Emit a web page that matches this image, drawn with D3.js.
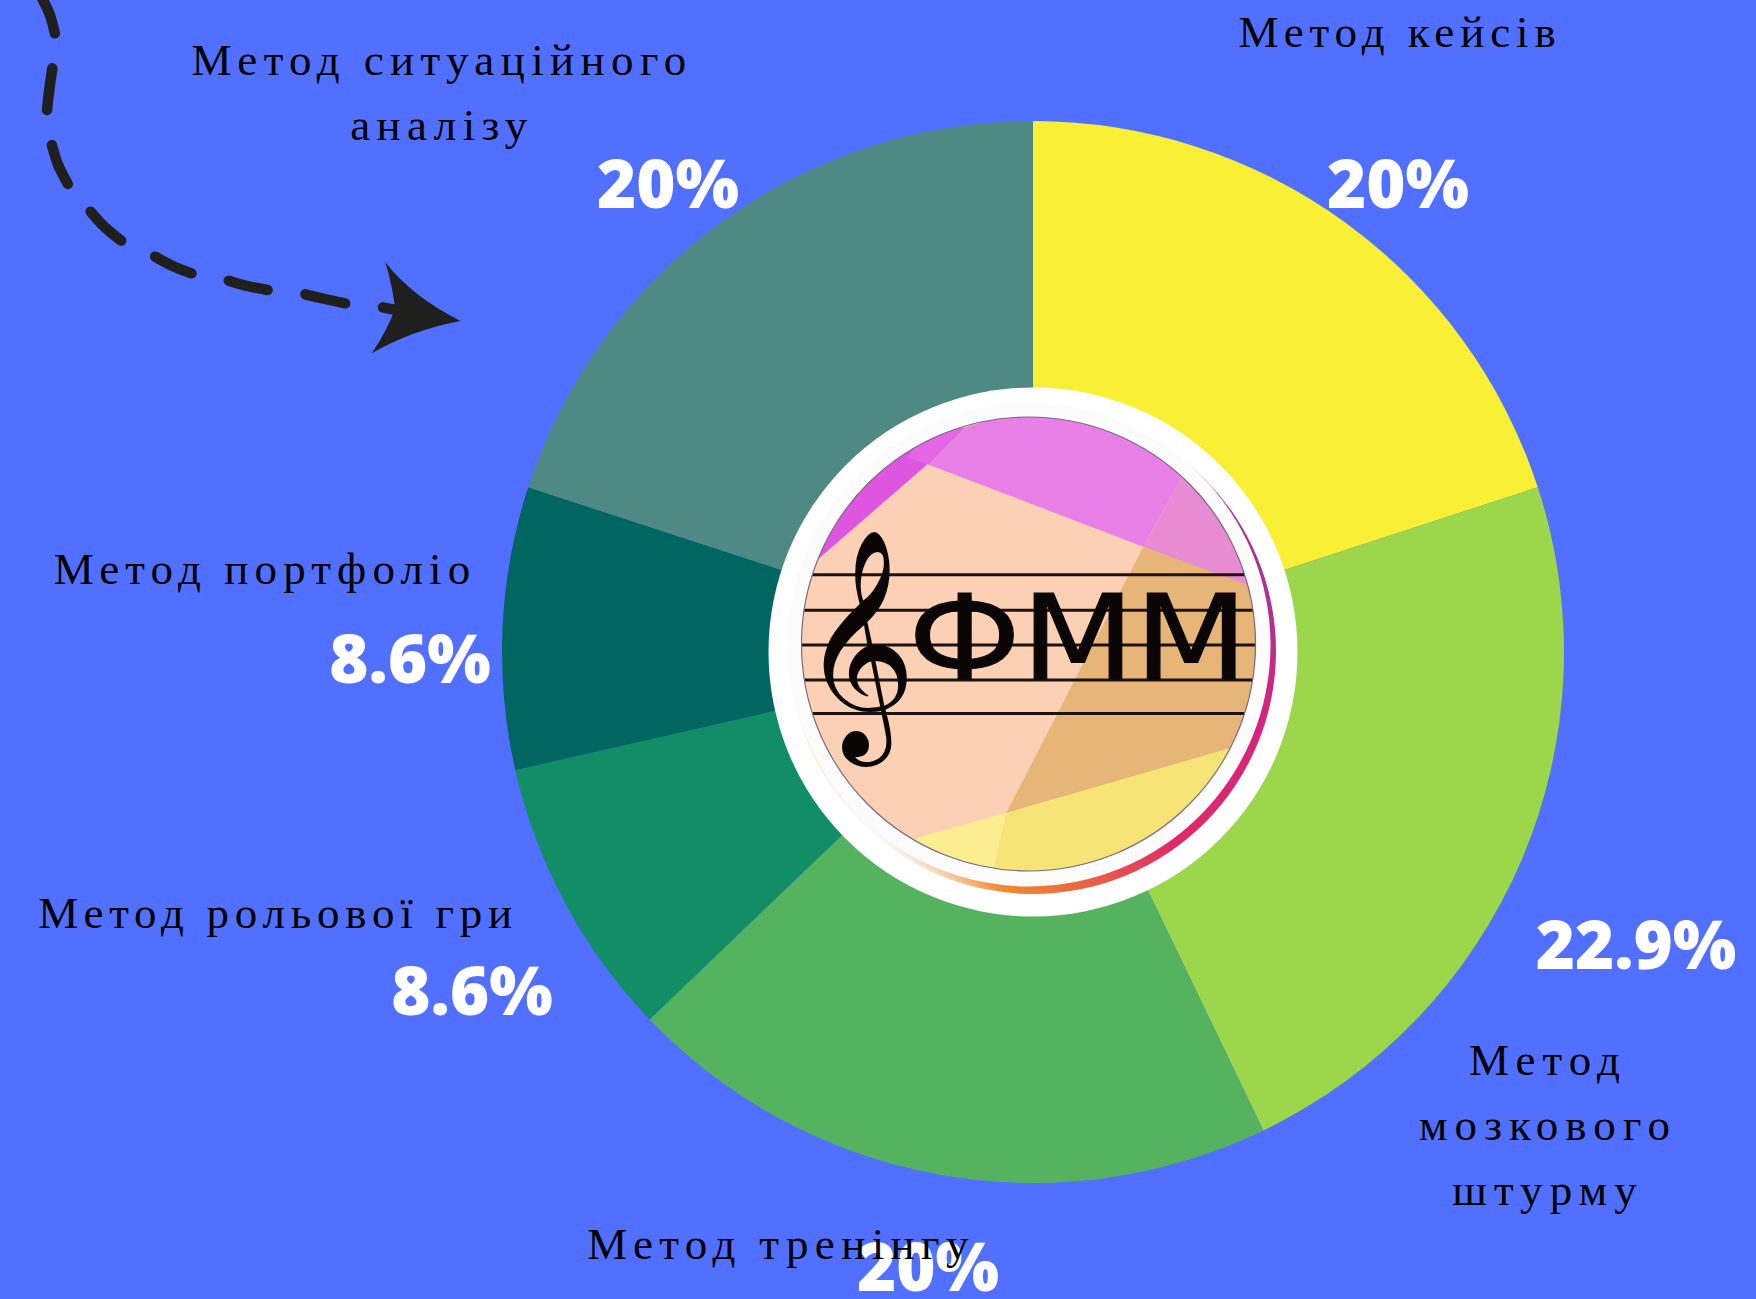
<!DOCTYPE html>
<html><head><meta charset="utf-8">
<script src="https://cdn.jsdelivr.net/npm/d3@7/dist/d3.min.js"></script>
<style>html,body{margin:0;padding:0;background:#5170FF;overflow:hidden}svg{display:block}</style>
</head><body><svg id="c" width="1756" height="1299"></svg>
<script>
// Data
const categories = ["Метод кейсів","Метод мозкового штурму","Метод тренінгу","Метод рольової гри","Метод портфоліо","Метод ситуаційного аналізу"];
const values = [20,22.9,20,8.6,8.6,20];
const colors = ["#F9F035","#9CD64A","#55B35F","#118E66","#026660","#4E8984"];
const categoryLines = [["Метод кейсів"],["Метод","мозкового","штурму"],["Метод тренінгу"],["Метод рольової гри"],["Метод портфоліо"],["Метод ситуаційного","аналізу"]];
const labelAnchors = [[1400,47],[1548,1075],[781,1259],[278,928],[265,584],[442,75]];
const labelSpacing = [5.9,7.1,6.4,5.75,6.15,6.4];
const pctAnchors = [[1398,208],[1636,969],[928,1291],[472,1015],[410,683],[668,208]];

const W=1756,H=1299,cx=1033,cy=652,R=531,r0=258;
const svg=d3.select("#c");
svg.append("rect").attr("width",W).attr("height",H).attr("fill","#5170FF");

// Donut
const pie=d3.pie().sort(null).value(d=>d)(values);
const arc=d3.arc().innerRadius(r0).outerRadius(R);
svg.append("g").attr("transform",`translate(${cx},${cy})`).selectAll("path").data(pie).join("path")
  .attr("d",arc).attr("fill",(d,i)=>colors[i]);

// Logo
const defs=svg.append("defs");
const lc={x:1028.5,y:644,r:227};
defs.append("clipPath").attr("id","lc").append("circle").attr("cx",lc.x).attr("cy",lc.y).attr("r",lc.r);
const g1=defs.append("linearGradient").attr("id","ring").attr("x1","0.9").attr("y1","0.1").attr("x2","0.15").attr("y2","0.9");
[[0,"#8E3FA0"],[0.3,"#D5247E"],[0.6,"#E02A66"],[0.88,"#F08A30"],[0.97,"#FBFBFB"]].forEach(s=>g1.append("stop").attr("offset",s[0]).attr("stop-color",s[1]));
svg.append("circle").attr("cx",cx).attr("cy",cy).attr("r",264.5).attr("fill","#fff");
svg.append("circle").attr("cx",1033).attr("cy",651).attr("r",243).attr("fill","url(#ring)");
svg.append("circle").attr("cx",1029).attr("cy",645).attr("r",241.5).attr("fill","#FBFBFB");
const logo=svg.append("g").attr("clip-path","url(#lc)");
logo.append("circle").attr("cx",lc.x).attr("cy",lc.y).attr("r",lc.r).attr("fill","#FBD0B5");
const zx=x=>740+x/2.703, zy=y=>370+y/2.8;
const polys=[
 ["#DE55E0",[[200,540],[500,270],[600,160],[400,60],[100,400]]],
 ["#E465E5",[[450,245],[510,265],[610,160],[520,170]]],
 ["#E880E8",[[510,265],[610,160],[800,100],[1250,130],[1190,310],[1090,495]]],
 ["#E78CD2",[[1190,310],[1090,495],[1380,610],[1420,400],[1250,130]]],
 ["#E6B577",[[1090,495],[1420,620],[1420,1040],[720,1240]]],
 ["#F6E477",[[480,1310],[720,1240],[1420,1030],[1420,1500],[400,1500]]],
 ["#FAEE90",[[480,1310],[720,1240],[680,1420],[400,1420]]]
];
const pl=d3.line().x(d=>zx(d[0])).y(d=>zy(d[1]));
logo.selectAll("path.p").data(polys).join("path").attr("class","p").attr("d",d=>pl(d[1])+"Z").attr("fill",d=>d[0]);
logo.selectAll("line.s").data([573,673,770,868,962]).join("line").attr("class","s")
 .attr("x1",lc.x-lc.r).attr("x2",lc.x+lc.r).attr("y1",zy).attr("y2",zy).attr("stroke","#1D1212").attr("stroke-width",3);
logo.append("text").text("ФММ").attr("x",908).attr("y",679).attr("textLength",340).attr("lengthAdjust","spacingAndGlyphs")
 .attr("font-family","'DejaVu Sans'").attr("font-size",117).attr("fill","#0B0606").attr("stroke","#0B0606").attr("stroke-width",1);
logo.append("text").text("\u{1D11E}").attr("x",800).attr("y",710).attr("font-family","'DejaVu Sans'").attr("font-size",197).attr("fill","#0B0606");
svg.append("circle").attr("cx",lc.x).attr("cy",lc.y).attr("r",lc.r).attr("fill","none").attr("stroke","#7A6A80").attr("stroke-width",1.2);

// Arrow
const ax=x=>x/2.063, ay=y=>y/3;
const dashes=[
 [[85,-10],[103,45],[113,100]],
 [[108,205],[102,265],[97,330]],
 [[107,435],[120,495],[140,552]],
 [[187,635],[215,680],[250,722]],
 [[320,770],[355,797],[395,820]],
 [[472,842],[510,858],[552,870]],
 [[630,883],[670,897],[712,910]],
 [[790,922],[810,928],[830,932]]
];
const dl=d3.line().x(d=>ax(d[0])).y(d=>ay(d[1])).curve(d3.curveNatural);
svg.selectAll("path.d").data(dashes).join("path").attr("class","d").attr("d",dl).attr("fill","none")
 .attr("stroke","#1F1F1D").attr("stroke-width",10.5).attr("stroke-linecap","round");
const P=(x,y)=>`${ax(x)},${ay(y)}`;
svg.append("path").attr("fill","#1F1F1D").attr("d",`M${P(795,787)}Q${P(850,890)} ${P(950,963)}Q${P(850,990)} ${P(767,1060)}Q${P(800,990)} ${P(815,925)}Q${P(810,860)} ${P(795,787)}Z`);

// Percent labels
svg.append("g").selectAll("text").data(values).join("text").text(d=>d+"%")
 .attr("x",(d,i)=>pctAnchors[i][0]).attr("y",(d,i)=>pctAnchors[i][1]).attr("text-anchor","middle")
 .attr("font-family","'Open Sans'").attr("font-weight",800).attr("font-size",67).attr("fill","#fff");

// Category labels
categoryLines.forEach((lines,i)=>{
  const t=svg.append("text").attr("text-anchor","middle").attr("font-family","'Liberation Serif'")
   .attr("font-size",45).attr("letter-spacing",labelSpacing[i]).attr("fill","#000");
  lines.forEach((l,j)=>t.append("tspan").attr("x",labelAnchors[i][0]).attr("y",labelAnchors[i][1]+j*65).text(l));
});
</script></body></html>
